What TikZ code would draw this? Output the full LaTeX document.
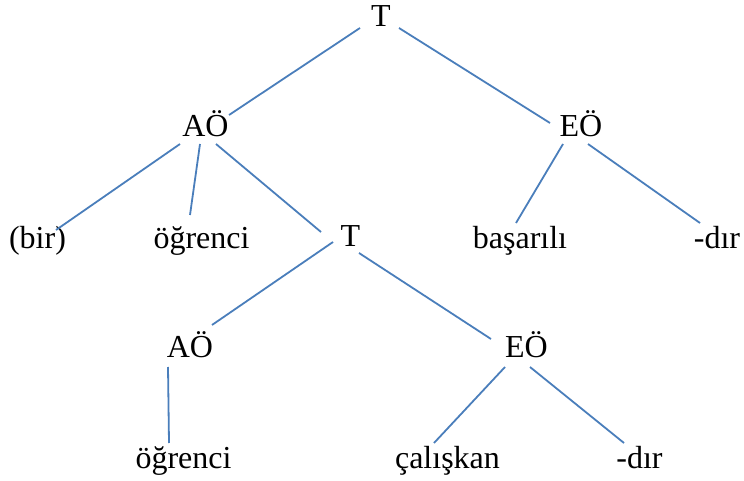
\documentclass[tikz,border=0pt]{standalone}
\usepackage{fontspec}
\setmainfont{Liberation Serif}
\definecolor{branch}{RGB}{74,126,187}
\begin{document}
\begin{tikzpicture}[x=1pt,y=-1pt,
  word/.style={anchor=base,inner sep=0pt,font=\fontsize{32}{38}\selectfont},
  link/.style={draw=branch,line width=1.8pt}]
\useasboundingbox (0,0) rectangle (744,481);
% sentence level
\node[word] (T0) at (381,27) {T};
\node[word] (A1) at (205.5,137) {AÖ};
\node[word] (E1) at (581,137) {EÖ};
% second level
\node[word] (bir) at (37.5,248) {(bir)};
\node[word] (og1) at (201.5,248) {öğrenci};
\node[word] (T1) at (350.5,247) {T};
\node[word] (bas) at (520,248) {başarılı};
\node[word] (dir1) at (717,248) {-dır};
% embedded clause
\node[word] (A2) at (190,357) {AÖ};
\node[word] (E2) at (526.5,357) {EÖ};
\node[word] (og2) at (183.5,468) {öğrenci};
\node[word] (cal) at (447.5,468) {çalışkan};
\node[word] (dir2) at (639.5,468) {-dır};
% branches
\draw[link] ([shift={(-21,1)}]T0.base) -- ([shift={(23.5,-22)}]A1.base);
\draw[link] ([shift={(18,1)}]T0.base) -- ([shift={(-31,-14)}]E1.base);
\draw[link] ([shift={(-25.5,7)}]A1.base) -- ([shift={(18.5,-18)}]bir.base);
\draw[link] ([shift={(-5.5,7)}]A1.base) -- ([shift={(-11.5,-33)}]og1.base);
\draw[link] ([shift={(10.5,7)}]A1.base) -- ([shift={(-29.5,-15)}]T1.base);
\draw[link] ([shift={(-18,7)}]E1.base) -- ([shift={(-4,-25)}]bas.base);
\draw[link] ([shift={(7,7)}]E1.base) -- ([shift={(-17,-25)}]dir1.base);
\draw[link] ([shift={(-17.5,-5)}]T1.base) -- ([shift={(22,-32)}]A2.base);
\draw[link] ([shift={(8.5,6)}]T1.base) -- ([shift={(-35.5,-18)}]E2.base);
\draw[link] ([shift={(-22,10)}]A2.base) -- ([shift={(-14.5,-25)}]og2.base);
\draw[link] ([shift={(-21.5,10)}]E2.base) -- ([shift={(-13.5,-25)}]cal.base);
\draw[link] ([shift={(3.5,10)}]E2.base) -- ([shift={(-15.5,-25)}]dir2.base);
\end{tikzpicture}
\end{document}
